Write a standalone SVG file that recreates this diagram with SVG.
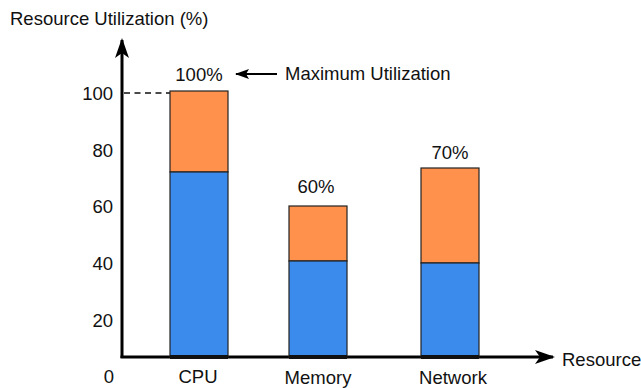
<svg xmlns="http://www.w3.org/2000/svg" width="641" height="388" viewBox="0 0 641 388">
  <style>
    text { font-family: "Liberation Sans", Arial, sans-serif; font-size: 18.5px; fill: #111; }
    .tick { text-anchor: end; }
    .mid { text-anchor: middle; }
    .axis { stroke: #000; stroke-width: 3; fill: none; }
    .used { fill: #3A8BEB; stroke: #222; stroke-width: 1.2; }
    .spare { fill: #FF914D; stroke: #222; stroke-width: 1.2; }
    .base { stroke: #111; stroke-width: 4; }
  </style>
  <defs>
    <marker id="bigArrow" viewBox="0 0 20 14" refX="18" refY="7" markerWidth="20" markerHeight="14" markerUnits="userSpaceOnUse" orient="auto">
      <path d="M0,0 L20,7 L0,14 L5,7 Z" fill="#000"/>
    </marker>
    <marker id="smallArrow" viewBox="0 0 14 10" refX="13" refY="5" markerWidth="14" markerHeight="10" markerUnits="userSpaceOnUse" orient="auto">
      <path d="M0,0 L14,5 L0,10 L3,5 Z" fill="#000"/>
    </marker>
  </defs>

  <!-- axes -->
  <g id="axes">
    <line class="axis" x1="122" y1="358" x2="122" y2="40" marker-end="url(#bigArrow)"/>
    <line class="axis" x1="120.5" y1="357" x2="553" y2="357" marker-end="url(#bigArrow)"/>
    <text x="10" y="25">Resource Utilization (%)</text>
    <text x="562" y="366">Resource</text>
    <text class="tick" x="113" y="100">100</text>
    <text class="tick" x="113" y="157">80</text>
    <text class="tick" x="113" y="213">60</text>
    <text class="tick" x="113" y="270">40</text>
    <text class="tick" x="113" y="327">20</text>
    <text class="tick" x="114" y="383">0</text>
  </g>

  <!-- connectors -->
  <g id="connectors">
    <line x1="124" y1="93" x2="170" y2="93" stroke="#111" stroke-width="1.5" stroke-dasharray="6,4.5"/>
    <line x1="277" y1="74" x2="236" y2="74" stroke="#000" stroke-width="2" marker-end="url(#smallArrow)"/>
  </g>

  <g id="cpu">
    <rect class="spare" x="170" y="91" width="58" height="81"/>
    <rect class="used" x="170" y="172" width="58" height="185"/>
    <line class="base" x1="170" y1="357" x2="228" y2="357"/>
    <text class="mid" x="199" y="81">100%</text>
    <text class="mid" x="198" y="383">CPU</text>
  </g>

  <g id="max-label">
    <text x="285" y="80">Maximum Utilization</text>
  </g>

  <g id="memory">
    <rect class="spare" x="289" y="206" width="58" height="55"/>
    <rect class="used" x="289" y="261" width="58" height="96"/>
    <line class="base" x1="289" y1="357" x2="347" y2="357"/>
    <text class="mid" x="316" y="193">60%</text>
    <text class="mid" x="318" y="384">Memory</text>
  </g>

  <g id="network">
    <rect class="spare" x="421" y="168" width="58" height="95"/>
    <rect class="used" x="421" y="263" width="58" height="94"/>
    <line class="base" x1="421" y1="357" x2="479" y2="357"/>
    <text class="mid" x="450" y="159">70%</text>
    <text class="mid" x="453" y="384">Network</text>
  </g>
</svg>
